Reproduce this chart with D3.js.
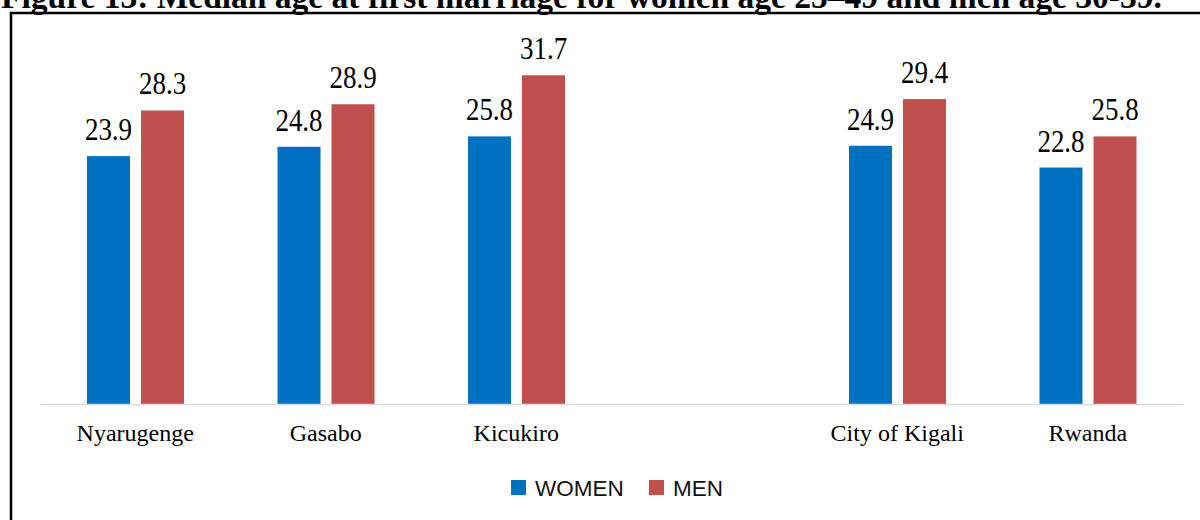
<!DOCTYPE html>
<html>
<head>
<meta charset="utf-8">
<script src="https://cdn.jsdelivr.net/npm/d3@7"></script>
<style>
  body { margin: 0; background: #fff; }
  svg { display: block; }
</style>
</head>
<body>
<div id="chart"></div>
<script>
  // data
  var categories = ['Nyarugenge', 'Gasabo', 'Kicukiro', '', 'City of Kigali', 'Rwanda'];
  var series = ['WOMEN', 'MEN'];
  var women = [23.9, 24.8, 25.8, null, 24.9, 22.8];
  var men = [28.3, 28.9, 31.7, null, 29.4, 25.8];
  var colors = ['#0070C0', '#C0504D'];

  var width = 1200, height = 520;

  var svg = d3.select('#chart').append('svg')
    .attr('width', width)
    .attr('height', height);

  // title (cut off at the top, as in the source)
  svg.append('text')
    .attr('x', 1)
    .attr('y', 8)
    .attr('font-family', '"Liberation Serif", "Times New Roman", serif')
    .attr('font-weight', 'bold')
    .attr('font-size', 33.5)
    .text('Figure 13: Median age at first marriage for women age 25–49 and men age 30-39.');

  // frame
  svg.append('path')
    .attr('d', 'M11,' + (height + 5) + 'V13H' + (width + 5))
    .attr('fill', 'none')
    .attr('stroke', '#000')
    .attr('stroke-width', 2.5);

  var x0 = d3.scaleBand()
    .domain(d3.range(categories.length))
    .range([40, 1183]);

  var x1 = d3.scaleBand()
    .domain(series)
    .range([47, 144])
    .paddingInner(0.204);

  var y = d3.scaleLinear()
    .domain([0, 35])
    .range([404, 41]);

  var rows = categories.map(function (c, i) {
    return { i: i, name: c, values: [women[i], men[i]] };
  });

  var group = svg.append('g').selectAll('g')
    .data(rows)
    .enter().append('g')
    .attr('transform', function (d) { return 'translate(' + x0(d.i) + ',0)'; });

  var cells = group.selectAll('g')
    .data(function (d) {
      return series.map(function (s, k) { return { s: s, k: k, v: d.values[k] }; })
        .filter(function (e) { return e.v != null; });
    })
    .enter().append('g');

  cells.append('rect')
    .attr('x', function (d) { return x1(d.s); })
    .attr('width', x1.bandwidth())
    .attr('y', function (d) { return y(d.v); })
    .attr('height', function (d) { return y(0) - y(d.v); })
    .attr('fill', function (d) { return colors[d.k]; });

  // value labels
  cells.append('text')
    .attr('transform', function (d) {
      return 'translate(' + (x1(d.s) + x1.bandwidth() / 2) + ',' + (y(d.v) - 16) + ') scale(1,1.15)';
    })
    .attr('text-anchor', 'middle')
    .attr('font-family', '"Liberation Serif", "Times New Roman", serif')
    .attr('font-size', 27)
    .attr('fill', '#000')
    .text(function (d) { return d.v.toFixed(1); });

  // baseline axis
  var xAxis = d3.axisBottom(x0)
    .tickSize(0)
    .tickPadding(0)
    .tickFormat(function (i) { return categories[i]; });

  var ax = svg.append('g')
    .attr('transform', 'translate(0,' + y(0) + ')')
    .call(xAxis);

  ax.select('.domain')
    .attr('stroke', '#d9d9d9')
    .attr('stroke-width', 1.5);

  ax.selectAll('text')
    .attr('y', 37)
    .attr('dy', 0)
    .attr('font-family', '"Liberation Serif", "Times New Roman", serif')
    .attr('font-size', 24)
    .attr('fill', '#000');

  // legend
  var legendX = [511, 649];
  var legend = svg.append('g').selectAll('g')
    .data(series)
    .enter().append('g')
    .attr('transform', function (d, k) { return 'translate(' + legendX[k] + ',480)'; });

  legend.append('rect')
    .attr('width', 15)
    .attr('height', 15)
    .attr('fill', function (d, k) { return colors[k]; });

  legend.append('text')
    .attr('x', 24)
    .attr('y', 15.5)
    .attr('font-family', '"Liberation Sans", Arial, sans-serif')
    .attr('font-size', 22.5)
    .attr('fill', '#111')
    .text(function (d) { return d; });
</script>
</body>
</html>
